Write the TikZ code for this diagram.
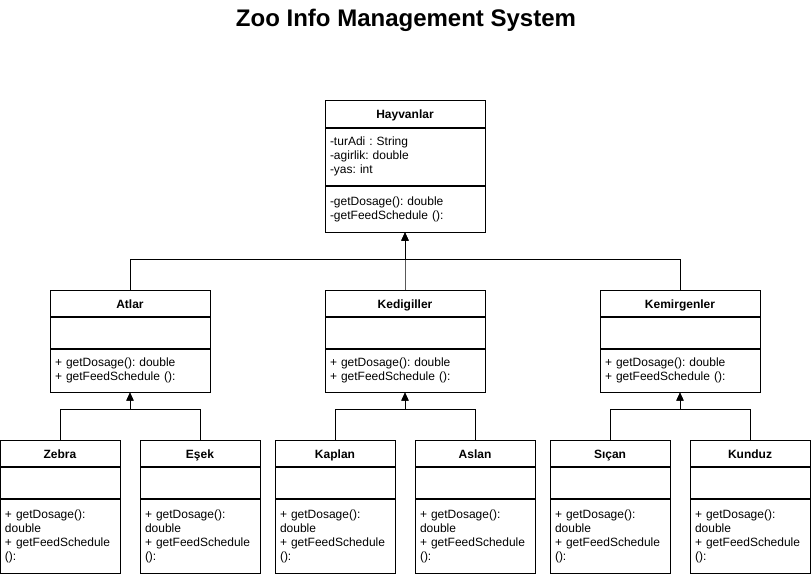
\documentclass[tikz,border=0pt]{standalone}
\usepackage{fontspec}
\setmainfont{Liberation Sans}
\frenchspacing
\usetikzlibrary{positioning, arrows.meta}
\newcommand{\inheritarrow}{-{Triangle[length=8pt,width=7pt]}}
\newcommand{\busrise}{0,-30}

\tikzset{
  classhead/.style={draw, font=\fontsize{12}{14}\selectfont\bfseries, align=center, inner xsep=5pt,
    text height=11pt, text depth=1pt, minimum height=26pt},
  classpart/.style={draw, font=\fontsize{12}{14}\selectfont, align=left, inner xsep=5pt},
  widebox/.style={text width=150pt},
  narrowbox/.style={text width=110pt},
}

\begin{document}
\begin{tikzpicture}[x=1pt, y=-1pt, line width=1pt]
    \useasboundingbox (0,0) rectangle (811,573);
    \node[font=\fontsize{24}{28}\selectfont\bfseries] (title) at (406,20) {Zoo Info Management System};

    % base class
    \node[classhead, widebox, minimum height=27pt] (hayvanlar) at (405,113.5) {Hayvanlar};
    \node[classpart, widebox, minimum height=57pt, below=0pt of hayvanlar] (hayvanlarattr)
        {-turAdi : String\\-agirlik: double\\-yas: int};
    \node[classpart, widebox, minimum height=46pt, below=0pt of hayvanlarattr] (hayvanlarmeth)
        {-getDosage(): double\\-getFeedSchedule ():};

    % families
    \node[classhead, widebox] (atlar) at (130,303) {Atlar};
    \node[classpart, widebox, minimum height=31pt, below=0pt of atlar] (atlarattr) {};
    \node[classpart, widebox, minimum height=43pt, below=0pt of atlarattr] (atlarmeth)
        {+ getDosage(): double\\+ getFeedSchedule ():};

    \node[classhead, widebox] (kedigiller) at (405,303) {Kedigiller};
    \node[classpart, widebox, minimum height=31pt, below=0pt of kedigiller] (kedigillerattr) {};
    \node[classpart, widebox, minimum height=43pt, below=0pt of kedigillerattr] (kedigillermeth)
        {+ getDosage(): double\\+ getFeedSchedule ():};

    \node[classhead, widebox] (kemirgenler) at (680,303) {Kemirgenler};
    \node[classpart, widebox, minimum height=31pt, below=0pt of kemirgenler] (kemirgenlerattr) {};
    \node[classpart, widebox, minimum height=43pt, below=0pt of kemirgenlerattr] (kemirgenlermeth)
        {+ getDosage(): double\\+ getFeedSchedule ():};

    % animals
    \node[classhead, narrowbox] (zebra) at (60,453) {Zebra};
    \node[classpart, narrowbox, minimum height=31pt, below=0pt of zebra] (zebraattr) {};
    \node[classpart, narrowbox, minimum height=74pt, below=0pt of zebraattr] (zebrameth)
        {+ getDosage():\\double\\+ getFeedSchedule\\():};

    \node[classhead, narrowbox] (esek) at (200,453) {Eşek};
    \node[classpart, narrowbox, minimum height=31pt, below=0pt of esek] (esekattr) {};
    \node[classpart, narrowbox, minimum height=74pt, below=0pt of esekattr] (esekmeth)
        {+ getDosage():\\double\\+ getFeedSchedule\\():};

    \node[classhead, narrowbox] (kaplan) at (335,453) {Kaplan};
    \node[classpart, narrowbox, minimum height=31pt, below=0pt of kaplan] (kaplanattr) {};
    \node[classpart, narrowbox, minimum height=74pt, below=0pt of kaplanattr] (kaplanmeth)
        {+ getDosage():\\double\\+ getFeedSchedule\\():};

    \node[classhead, narrowbox] (aslan) at (475,453) {Aslan};
    \node[classpart, narrowbox, minimum height=31pt, below=0pt of aslan] (aslanattr) {};
    \node[classpart, narrowbox, minimum height=74pt, below=0pt of aslanattr] (aslanmeth)
        {+ getDosage():\\double\\+ getFeedSchedule\\():};

    \node[classhead, narrowbox] (sican) at (610,453) {Sıçan};
    \node[classpart, narrowbox, minimum height=31pt, below=0pt of sican] (sicanattr) {};
    \node[classpart, narrowbox, minimum height=74pt, below=0pt of sicanattr] (sicanmeth)
        {+ getDosage():\\double\\+ getFeedSchedule\\():};

    \node[classhead, narrowbox] (kunduz) at (750,453) {Kunduz};
    \node[classpart, narrowbox, minimum height=31pt, below=0pt of kunduz] (kunduzattr) {};
    \node[classpart, narrowbox, minimum height=74pt, below=0pt of kunduzattr] (kunduzmeth)
        {+ getDosage():\\double\\+ getFeedSchedule\\():};

    % inheritance
    \draw[\inheritarrow] (atlar.north) -- ++(\busrise) -| (hayvanlarmeth.south);
    \draw[\inheritarrow] (kedigiller.north) -- ++(\busrise) -| (hayvanlarmeth.south);
    \draw[\inheritarrow] (kemirgenler.north) -- ++(\busrise) -| (hayvanlarmeth.south);
    \draw[\inheritarrow] (zebra.north) -- ++(\busrise) -| (atlarmeth.south);
    \draw[\inheritarrow] (esek.north) -- ++(\busrise) -| (atlarmeth.south);
    \draw[\inheritarrow] (kaplan.north) -- ++(\busrise) -| (kedigillermeth.south);
    \draw[\inheritarrow] (aslan.north) -- ++(\busrise) -| (kedigillermeth.south);
    \draw[\inheritarrow] (sican.north) -- ++(\busrise) -| (kemirgenlermeth.south);
    \draw[\inheritarrow] (kunduz.north) -- ++(\busrise) -| (kemirgenlermeth.south);
\end{tikzpicture}
\end{document}
